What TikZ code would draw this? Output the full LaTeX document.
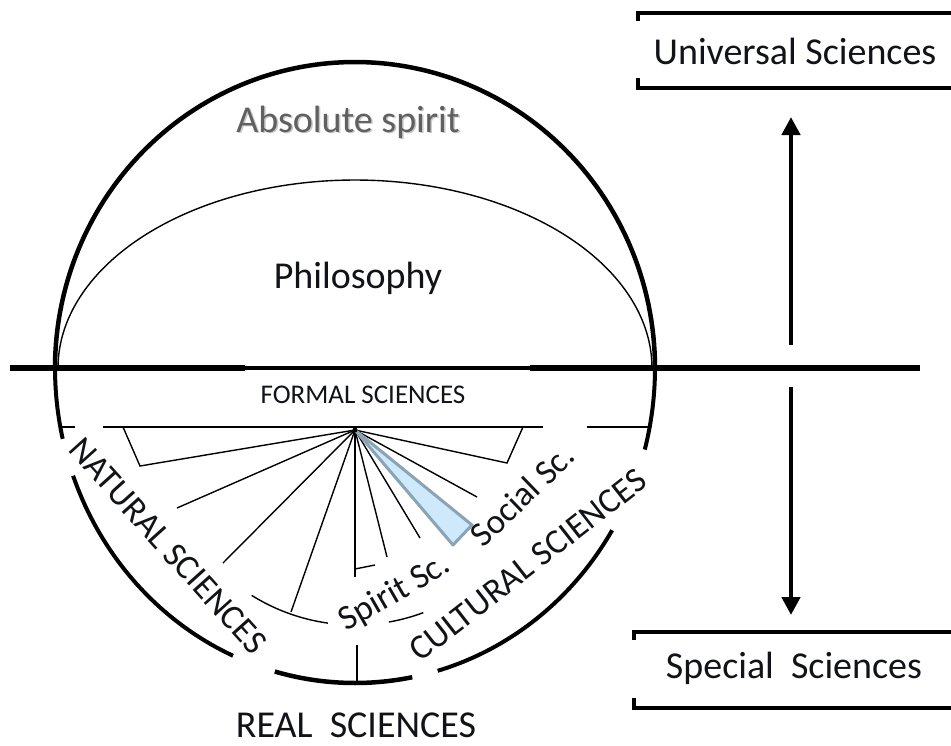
\documentclass[tikz,border=0pt]{standalone}
\usepackage{fontspec}
\setmainfont{Carlito}
\usetikzlibrary{arrows.meta}
\definecolor{absgray}{HTML}{606060}
\definecolor{shadowgray}{HTML}{C8C8C8}
\definecolor{wedgefill}{HTML}{CDE9FB}
\definecolor{wedgeedge}{HTML}{8CA3B4}
\definecolor{inktext}{HTML}{111318}
\begin{document}
\begin{tikzpicture}[x=1pt,y=-1pt,
  circline/.style={line width=4.5pt},
  lowarc/.style={line width=4pt},
  thinline/.style={line width=1.4pt},
  bandline/.style={line width=1.6pt},
  brk/.style={line width=4.5pt, line cap=rect, line join=miter},
  arr/.style={line width=4.5pt, -{Triangle[width=18pt,length=18pt]}},
  lbl/.style={font=\fontsize{38}{40}\selectfont, inner sep=0pt, text=inktext},
  rot/.style={font=\fontsize{35}{37}\selectfont, inner sep=0pt, text=inktext},
  small/.style={font=\fontsize{27}{29}\selectfont, inner sep=0pt, text=inktext}
]
\useasboundingbox (0,0) rectangle (951,745);
\fill[white] (0,0) rectangle (951,745);

% --- upper half: absolute spirit and philosophy
\draw[circline] plot[domain=180:360, samples=120] ({355+300*cos(\x)},{368+306*sin(\x)});
\draw[line width=1.4pt] plot[domain=180:360, samples=120] ({355+297*cos(\x)},{368+188*sin(\x)});

% --- horizontal divider
\draw[line width=6.5pt] (10,368) -- (245,368);
\draw[line width=3.5pt] (245,368) -- (530,368);
\draw[line width=6.5pt] (530,368) -- (920,368);

% --- lower circle pieces
\draw[lowarc] plot[domain=167:180, samples=15] ({355+300*cos(\x)},{368+315*sin(\x)});
\draw[lowarc] plot[domain=114:160, samples=40] ({355+300*cos(\x)},{368+315*sin(\x)});
\draw[line width=4.5pt] plot[domain=79:105.5, samples=30] ({355+300*cos(\x)},{368+315*sin(\x)});
\draw[lowarc] plot[domain=31:74, samples=40] ({355+300*cos(\x)},{368+315*sin(\x)});
\draw[lowarc] plot[domain=0:15, samples=15] ({355+300*cos(\x)},{368+315*sin(\x)});

% --- formal sciences band line
\draw[bandline] (62,427) -- (75,427);
\draw[bandline] (103,427) -- (543,427);
\draw[bandline] (587,427) -- (650,427);

% --- radiating lines from the hub
\coordinate (hub) at (355,430);
\draw[thinline] (123,427) -- (140,466) -- (hub);
\draw[thinline] (hub) -- (177,508);
\draw[thinline] (hub) -- (223,563);
\draw[thinline] (hub) -- (291,612);
\draw[thinline] (hub) -- (355,577);
\draw[thinline] (355,569) -- (375,565);
\draw[thinline] (hub) -- (387,557);
\draw[thinline] (hub) -- (420,538);
\draw[thinline] (hub) -- (477,497);
\draw[thinline] (hub) -- (507,463) -- (523,427);
\draw[thinline] plot[domain=98:122, samples=20] ({355+195*cos(\x)},{430+195*sin(\x)});
\draw[thinline] plot[domain=69.5:80, samples=10] ({355+195*cos(\x)},{430+195*sin(\x)});
\filldraw[fill=wedgefill, draw=wedgeedge, line width=3pt, line join=round]
  (hub) -- (453,545) -- (472,525) -- cycle;
\fill (hub) circle (2.5);

% --- real sciences stem
\draw[line width=1.6pt] (357,645) -- (357,683);

% --- labels
\node[lbl, text=absgray] (abs) at (348,123)
  {\rlap{\hspace{1.5pt}\raisebox{-1.5pt}{\color{shadowgray}Absolute spirit}}Absolute spirit};
\node[lbl] (phil) at (358,278) {Philosophy};
\node[small] (formal) at (363,395) {FORMAL SCIENCES};
\node[lbl] (real) at (356,725) {REAL\hspace{0.45em}SCIENCES};
\node[rot, rotate=-48] (nat) at (168,546) {NATURAL SCIENCES};
\node[rot, rotate=38] (cult) at (528,565) {CULTURAL SCIENCES};
\node[rot, rotate=30] (spirit) at (395,593) {Spirit Sc.};
\node[rot, rotate=44] (social) at (522,495) {Social Sc.};

% --- right: universal / special sciences
\draw[brk] (638,19) -- (638,13) -- (953,13);
\draw[brk] (638,80) -- (638,88) -- (953,88);
\node[lbl] (univ) at (795,51) {Universal Sciences};
\draw[brk] (634,638) -- (634,632) -- (953,632);
\draw[brk] (634,700) -- (634,708) -- (953,708);
\node[lbl] (spec) at (794,668) {Special\hspace{0.45em}Sciences};

\coordinate (upfrom) at (791,345);
\coordinate (upto) at (791,117);
\coordinate (downfrom) at (791,387);
\coordinate (downto) at (791,615);
\draw[arr] (upfrom) -- (upto);
\draw[arr] (downfrom) -- (downto);
\end{tikzpicture}
\end{document}
